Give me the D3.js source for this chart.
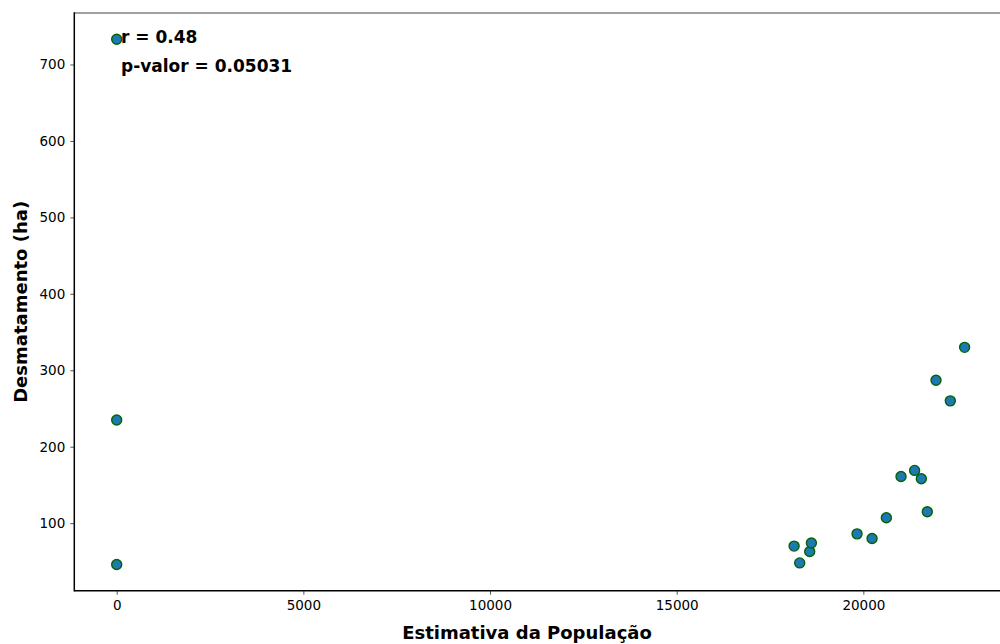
<!DOCTYPE html>
<html>
<head>
<meta charset="utf-8">
<script src="https://cdn.jsdelivr.net/npm/d3@7"></script>
<style>
  html, body { margin: 0; padding: 0; background: #fff; }
  svg { display: block; font-family: "DejaVu Sans", sans-serif; }
</style>
</head>
<body>
<svg id="chart" width="1000" height="644"></svg>
<script>
// Estimated population vs. deforestation (ha)
const populacao = [0, 0, 0, 18145, 18295, 18563, 18608, 19831, 20233, 20616,
                   21009, 21373, 21553, 21713, 21946, 22329, 22712];
const desmatamento = [733, 235, 46, 70, 48, 63, 74, 86, 80, 107,
                      161, 169, 158, 115, 287, 260, 330];
const xTicks = [0, 5000, 10000, 15000, 20000];
const yTicks = [100, 200, 300, 400, 500, 600, 700];
const anotacoes = ["r = 0.48", "p-valor = 0.05031"];

const svg = d3.select("#chart");
const plotLeft = 74.3, plotRight = 1007, plotTop = 13, plotBottom = 590.7;

// 5% padding around the data extent
const pad = (ext) => { const d = (ext[1] - ext[0]) * 0.05; return [ext[0] - d, ext[1] + d]; };
const x = d3.scaleLinear().domain(pad(d3.extent(populacao))).range([plotLeft, plotRight]);
const y = d3.scaleLinear().domain(pad(d3.extent(desmatamento))).range([plotBottom, plotTop]);

// Frame: grey top/right spines, black left/bottom spines
svg.append("line").attr("x1", plotLeft).attr("x2", plotRight).attr("y1", plotTop).attr("y2", plotTop)
  .attr("stroke", "#808080").attr("stroke-width", 1.5);
svg.append("line").attr("x1", plotRight).attr("x2", plotRight).attr("y1", plotTop).attr("y2", plotBottom)
  .attr("stroke", "#808080").attr("stroke-width", 1.5);

const xAxis = svg.append("g").attr("transform", `translate(0,${plotBottom})`)
  .call(d3.axisBottom(x).tickValues(xTicks).tickFormat(d3.format("d")).tickSize(4).tickPadding(6));
const yAxis = svg.append("g").attr("transform", `translate(${plotLeft},0)`)
  .call(d3.axisLeft(y).tickValues(yTicks).tickFormat(d3.format("d")).tickSize(4).tickPadding(5));

[xAxis, yAxis].forEach(g => {
  g.select(".domain").remove();
  g.selectAll(".tick line").attr("stroke", "#555").attr("stroke-width", 1);
  g.selectAll(".tick text").attr("fill", "#000").style("font-size", "13.5px")
    .style("font-family", "'DejaVu Sans', sans-serif");
});

svg.append("line").attr("x1", plotLeft).attr("x2", plotLeft).attr("y1", plotTop - 0.75).attr("y2", plotBottom + 0.75)
  .attr("stroke", "#000").attr("stroke-width", 1.5);
svg.append("line").attr("x1", plotLeft).attr("x2", plotRight).attr("y1", plotBottom).attr("y2", plotBottom)
  .attr("stroke", "#000").attr("stroke-width", 1.5);

// Points
svg.append("g").selectAll("circle")
  .data(populacao.map((p, i) => ({ p, d: desmatamento[i] })))
  .join("circle")
  .attr("cx", d => x(d.p))
  .attr("cy", d => y(d.d))
  .attr("r", 5)
  .attr("fill", "#1f77b4")
  .attr("stroke", "#006400")
  .attr("stroke-width", 1.4);

// Correlation annotation
svg.append("g").selectAll("text").data(anotacoes).join("text")
  .attr("x", 121)
  .attr("y", (d, i) => 42.5 + i * 29.5)
  .attr("font-weight", "bold")
  .style("font-size", "17px")
  .attr("fill", "#000")
  .text(d => d);

// Axis titles
svg.append("text")
  .attr("x", 527).attr("y", 638.5)
  .attr("text-anchor", "middle")
  .attr("font-weight", "bold")
  .style("font-size", "18px")
  .text("Estimativa da População");

svg.append("text")
  .attr("transform", `translate(27,${(plotTop + plotBottom) / 2}) rotate(-90)`)
  .attr("text-anchor", "middle")
  .attr("font-weight", "bold")
  .style("font-size", "18px")
  .text("Desmatamento (ha)");
</script>
</body>
</html>
